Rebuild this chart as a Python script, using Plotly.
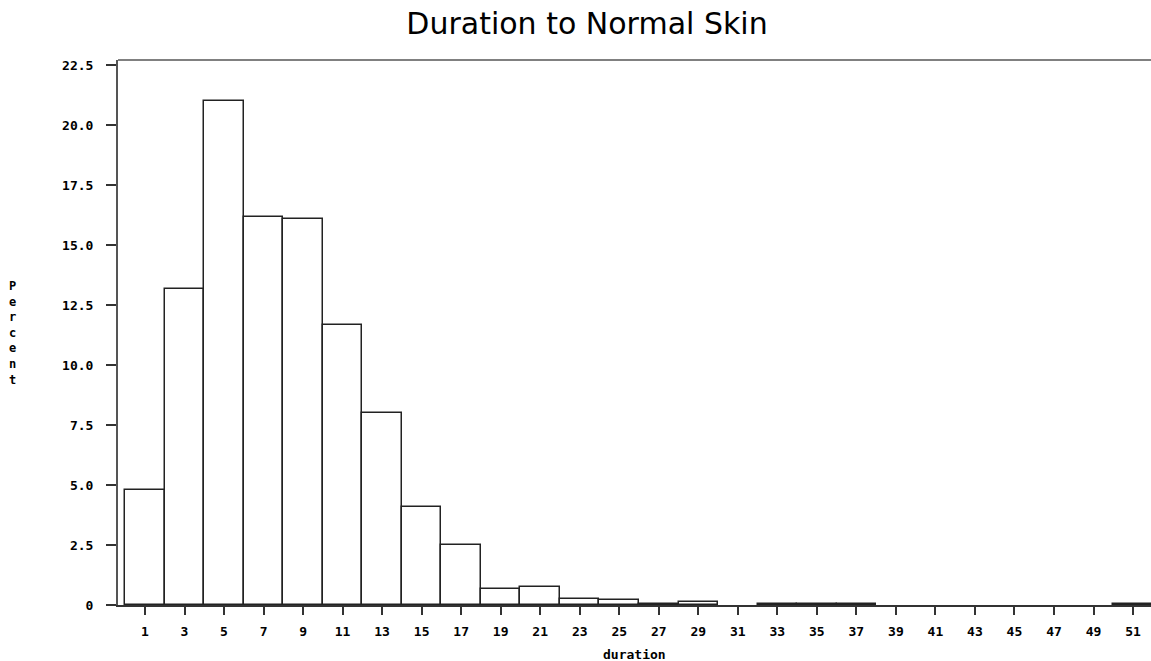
import plotly.graph_objects as go

# Histogram midpoints (duration) and percent per bin
midpoints = [1, 3, 5, 7, 9, 11, 13, 15, 17, 19, 21, 23, 25, 27, 29, 31, 33, 35, 37,
             39, 41, 43, 45, 47, 49, 51]
percent = [4.8, 13.17, 21.0, 16.17, 16.08, 11.65, 8.0, 4.1, 2.5, 0.65, 0.77, 0.24,
           0.2, 0.05, 0.12, 0.0, 0.03, 0.03, 0.03, 0.0, 0.0, 0.0, 0.0, 0.0, 0.0, 0.03]

y_tickvals = [0, 2.5, 5.0, 7.5, 10.0, 12.5, 15.0, 17.5, 20.0, 22.5]
y_ticktext = ["0", "2.5", "5.0", "7.5", "10.0", "12.5", "15.0", "17.5", "20.0", "22.5"]

title_text = "Duration to Normal Skin"
x_title = "duration"
y_title = "Percent"

tick_font = dict(family="DejaVu Sans Mono", size=13, color="black", weight="bold")

fig = go.Figure()
fig.add_trace(go.Bar(
    x=midpoints,
    y=[v if v > 0 else None for v in percent],
    width=2,
    marker=dict(color="white", line=dict(color="#222222", width=1.5)),
    hoverinfo="x+y",
))

fig.update_layout(
    width=1151, height=661,
    margin=dict(l=118, r=0, t=60, b=56),
    paper_bgcolor="white", plot_bgcolor="white",
    showlegend=False,
    bargap=0,
    title=dict(text=title_text, x=587 / 1151, xanchor="center", xref="container",
               y=1 - 23 / 661, yanchor="middle", yref="container",
               font=dict(family="DejaVu Sans", size=30, color="black")),
    xaxis=dict(
        range=[-0.366, 51.91], tickvals=midpoints, ticktext=[str(m) for m in midpoints],
        ticks="outside", ticklen=8, tickwidth=1.5, tickcolor="#333333",
        showline=True, linecolor="#333333", linewidth=1.5,
        showgrid=False, zeroline=False, tickfont=tick_font, ticklabelstandoff=6,
    ),
    yaxis=dict(
        range=[0, 22.71], tickvals=y_tickvals, ticktext=y_ticktext,
        ticks="outside", ticklen=10, tickwidth=1.5, tickcolor="#333333",
        showline=True, linecolor="#555555", linewidth=2,
        showgrid=False, zeroline=False, tickfont=tick_font, ticklabelstandoff=10,
    ),
    shapes=[dict(type="line", xref="paper", yref="paper", x0=0, x1=1, y0=1, y1=1,
                 line=dict(color="#808080", width=2))],
    annotations=[
        dict(text=x_title, xref="paper", yref="paper", x=0.5, y=-49 / 545,
             xanchor="center", yanchor="middle", showarrow=False,
             font=dict(family="DejaVu Sans Mono", size=13, color="black", weight="bold")),
        dict(text="<br>".join(list(y_title)), xref="paper", yref="paper",
             x=-106 / 1033, y=(605 - 333) / 545, xanchor="center", yanchor="middle",
             showarrow=False, align="center",
             font=dict(family="DejaVu Sans Mono", size=12, color="black", weight="bold")),
    ],
)

fig.write_html("out.html", config={"displayModeBar": False},
               post_script="document.body.style.margin='0';document.body.style.overflow='hidden';")
